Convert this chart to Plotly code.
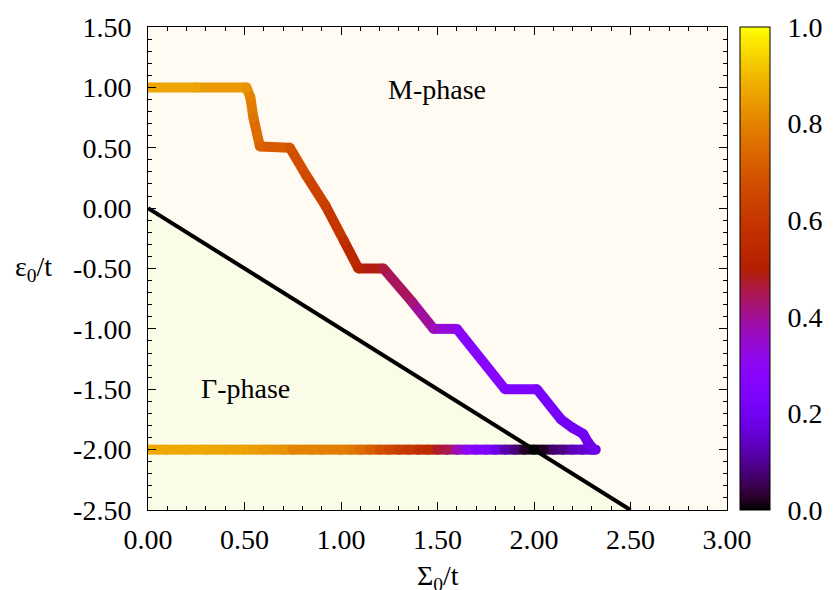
import math
import plotly.graph_objects as go
from plotly.colors import sample_colorscale

# ---- data -------------------------------------------------------------
# M-phase boundary: (Sigma0/t, eps0/t) vertices and order-parameter colour value
UPPER_X = [0.00, 0.25, 0.51, 0.53, 0.546, 0.58, 0.735, 0.82, 0.92, 1.015, 1.09,
           1.22, 1.37, 1.48, 1.60, 1.85, 2.015, 2.14, 2.20, 2.255, 2.28, 2.31]
UPPER_Y = [1.00, 1.00, 1.00, 0.92, 0.75, 0.51, 0.50, 0.27, 0.02, -0.27, -0.50,
           -0.50, -0.78, -1.00, -1.00, -1.50, -1.50, -1.75, -1.82, -1.87, -1.94, -2.00]
UPPER_C = [0.87, 0.86, 0.83, 0.80, 0.77, 0.73, 0.69, 0.66, 0.62, 0.57, 0.52,
           0.46, 0.42, 0.37, 0.30, 0.25, 0.23, 0.21, 0.20, 0.20, 0.19, 0.19]

# eps0/t = -2 cut
LOWER_X = [0.00, 0.10, 0.20, 0.30, 0.40, 0.50, 0.60, 0.70, 0.75, 0.85, 0.90, 1.00,
           1.05, 1.10, 1.15, 1.20, 1.25, 1.30, 1.35, 1.40, 1.45, 1.50, 1.55, 1.60,
           1.65, 1.70, 1.75, 1.80, 1.85, 1.90, 1.95, 2.00, 2.05, 2.10, 2.15, 2.20,
           2.25, 2.30, 2.32]
LOWER_Y = [-2.0] * len(LOWER_X)
LOWER_C = [0.87, 0.87, 0.87, 0.87, 0.86, 0.86, 0.84, 0.83, 0.80, 0.80, 0.79, 0.79,
           0.78, 0.75, 0.72, 0.68, 0.65, 0.62, 0.60, 0.57, 0.55, 0.47, 0.45, 0.37,
           0.30, 0.25, 0.25, 0.18, 0.12, 0.08, 0.02, 0.00, 0.02, 0.07, 0.09, 0.13,
           0.15, 0.16, 0.17]

# Gamma/M phase separatrix
BOUND_X = [0.0, 2.5]
BOUND_Y = [0.0, -2.5]

X_TICKS = [0.0, 0.5, 1.0, 1.5, 2.0, 2.5, 3.0]
X_LABELS = ["0.00", "0.50", "1.00", "1.50", "2.00", "2.50", "3.00"]
Y_TICKS = [1.5, 1.0, 0.5, 0.0, -0.5, -1.0, -1.5, -2.0, -2.5]
Y_LABELS = ["1.50", "1.00", "0.50", "0.00", "-0.50", "-1.00", "-1.50", "-2.00", "-2.50"]
C_TICKS = [0.0, 0.2, 0.4, 0.6, 0.8, 1.0]
C_LABELS = ["0.0", "0.2", "0.4", "0.6", "0.8", "1.0"]


# gnuplot default pm3d palette (rgbformulae 7,5,15)
def pm3d_palette(n=41):
    stops = []
    for i in range(n):
        v = i / (n - 1)
        r = math.sqrt(v)
        g = v ** 3
        b = max(0.0, math.sin(2 * math.pi * v))
        stops.append([v, f"rgb({round(255*r)},{round(255*g)},{round(255*b)})"])
    return stops


CS = pm3d_palette()
FONT = "Liberation Serif"
FS = 28
W, H = 835, 590
ML, MR, MT, MB = 148, 99, 22, 80
PLOT_W = W - ML - MR
CB_X = 1.022          # colorbar left edge, paper units
CB_THICK = 30         # colorbar thickness, px

fig = go.Figure()

# Gamma-phase region below the separatrix
fig.add_trace(go.Scatter(
    x=BOUND_X + [BOUND_X[0]], y=BOUND_Y + [min(Y_TICKS)],
    mode="lines", fill="toself", fillcolor="#fafce8",
    line=dict(width=0), hoverinfo="skip"))


def add_path(xs, ys, cs, show_scale):
    for i in range(len(xs) - 1):
        col = sample_colorscale(CS, [(cs[i] + cs[i + 1]) / 2])[0]
        fig.add_trace(go.Scatter(
            x=[xs[i], xs[i + 1]], y=[ys[i], ys[i + 1]], mode="lines",
            line=dict(color=col, width=10), hoverinfo="skip"))
    marker = dict(color=cs, colorscale=CS, cmin=0, cmax=1, size=10,
                  line=dict(width=0), showscale=show_scale)
    if show_scale:
        marker["colorbar"] = dict(
            x=CB_X, xanchor="left", y=0.5, yanchor="middle",
            len=1, lenmode="fraction", thickness=CB_THICK, thicknessmode="pixels",
            outlinewidth=1, outlinecolor="black", xpad=0, ypad=0,
            tickmode="array", tickvals=C_TICKS, ticktext=C_LABELS,
            ticks="outside", ticklen=12, tickcolor="rgba(0,0,0,0)",
            tickfont=dict(family=FONT, size=FS, color="black"))
    fig.add_trace(go.Scatter(x=xs, y=ys, mode="markers", marker=marker))


add_path(LOWER_X, LOWER_Y, LOWER_C, False)
add_path(UPPER_X, UPPER_Y, UPPER_C, True)

fig.add_trace(go.Scatter(x=BOUND_X, y=BOUND_Y, mode="lines",
                         line=dict(color="black", width=4), hoverinfo="skip"))

# short inner tick dashes on both edges of the colour bar
cb_left = CB_X
cb_right = CB_X + CB_THICK / PLOT_W
dash = 7 / PLOT_W
shapes = []
for v in C_TICKS[1:-1]:
    for x0, x1 in ((cb_left, cb_left + dash), (cb_right - dash, cb_right)):
        shapes.append(dict(type="line", xref="paper", yref="paper",
                           x0=x0, x1=x1, y0=v, y1=v,
                           line=dict(color="black", width=1)))

axis_common = dict(
    showgrid=False, zeroline=False, showline=True, linecolor="black",
    linewidth=1, mirror="allticks", ticks="inside", ticklen=8, tickwidth=1,
    tickcolor="black", tickmode="array",
    tickfont=dict(family=FONT, size=FS, color="black"))

fig.update_xaxes(range=[0, 3], tickvals=X_TICKS, ticktext=X_LABELS,
                 ticklabelstandoff=4,
                 minor=dict(tickmode="linear", tick0=0, dtick=0.1,
                            ticks="inside", ticklen=4, tickcolor="black"),
                 **axis_common)
fig.update_yaxes(range=[-2.5, 1.5], tickvals=Y_TICKS, ticktext=Y_LABELS,
                 ticklabelstandoff=10,
                 minor=dict(tickmode="linear", tick0=0, dtick=0.1,
                            ticks="inside", ticklen=4, tickcolor="black"),
                 **axis_common)

fig.update_layout(
    width=W, height=H,
    margin=dict(l=ML, r=MR, t=MT, b=MB),
    paper_bgcolor="white", plot_bgcolor="#fffaf2",
    font=dict(family=FONT, size=FS, color="black"),
    showlegend=False,
    shapes=shapes,
    annotations=[
        dict(text="M-phase", x=1.495, y=0.98, xref="x", yref="y",
             xanchor="center", yanchor="middle",
             showarrow=False, font=dict(family=FONT, size=FS)),
        dict(text="Γ-phase", x=0.505, y=-1.49, xref="x", yref="y",
             xanchor="center", yanchor="middle",
             showarrow=False, font=dict(family=FONT, size=FS)),
        dict(text="ε<sub>0</sub>/t", x=-0.197, y=-0.5, xref="paper", yref="y",
             xanchor="center", yanchor="middle",
             showarrow=False, font=dict(family=FONT, size=FS)),
        dict(text="Σ<sub>0</sub>/t", x=1.5, y=-0.14, xref="x", yref="paper",
             xanchor="center", yanchor="middle",
             showarrow=False, font=dict(family=FONT, size=FS)),
    ],
)

fig.write_html("out.html")
